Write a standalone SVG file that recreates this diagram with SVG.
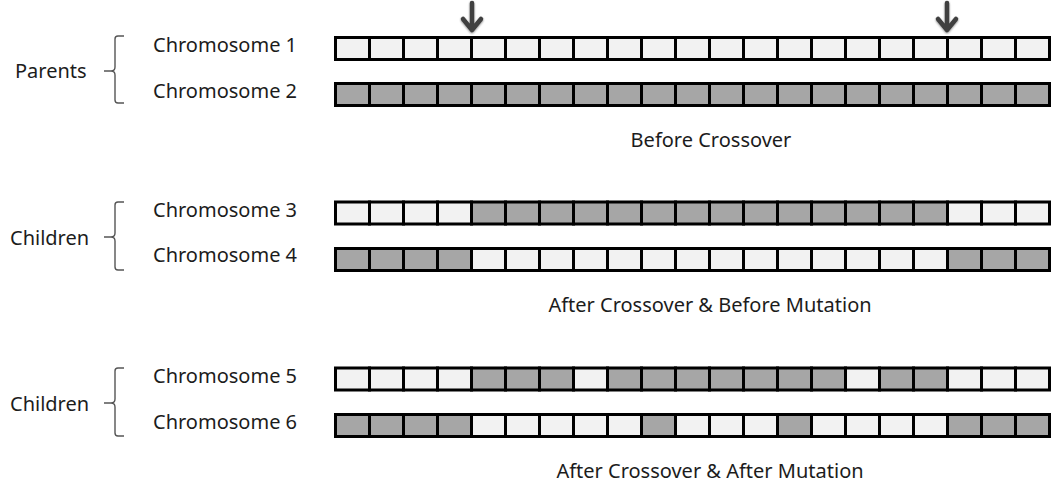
<svg xmlns="http://www.w3.org/2000/svg" width="1057" height="486" viewBox="0 0 1057 486">
  <style>
    text { font-family: "Noto Sans", "Open Sans", sans-serif; font-size: 20px; fill: #1c1c1c; }
    .cap { text-anchor: middle; }
    .L { fill: #f2f2f2; stroke: #000; stroke-width: 3; }
    .D { fill: #a6a6a6; stroke: #000; stroke-width: 3; }
    .brace { fill: none; stroke: #555; stroke-width: 1.4; }
    .arrow { fill: none; stroke: #3f3f3f; stroke-width: 4.5; stroke-linecap: round; stroke-linejoin: round; }
  </style>
  <defs>
    <rect id="c" width="34" height="22"/>
    <filter id="soft" x="-50%" y="-50%" width="200%" height="200%">
      <feGaussianBlur in="SourceAlpha" stdDeviation="1.2"/>
      <feOffset dx="0" dy="1" result="b"/>
      <feComponentTransfer><feFuncA type="linear" slope="0.45"/></feComponentTransfer>
      <feMerge><feMergeNode/><feMergeNode in="SourceGraphic"/></feMerge>
    </filter>
  </defs>
  <rect width="1057" height="486" fill="#fff"/>

  <!-- group labels with braces -->
  <g id="parents">
    <text x="15" y="78">Parents</text>
    <path class="brace" d="M124,36 L118,36 Q115,36 115,39 L115,67 Q115,71 111,71 L104,71 M111,71 Q115,71 115,75 L115,100 Q115,103 118,103 L124,103"/>
  </g>
  <g id="children-a">
    <text x="10" y="245">Children</text>
    <path class="brace" d="M124,202 L118,202 Q115,202 115,205 L115,233 Q115,237 111,237 L104,237 M111,237 Q115,237 115,241 L115,267 Q115,270 118,270 L124,270"/>
  </g>
  <g id="children-b">
    <text x="10" y="411">Children</text>
    <path class="brace" d="M124,368 L118,368 Q115,368 115,371 L115,399 Q115,403 111,403 L104,403 M111,403 Q115,403 115,407 L115,433 Q115,436 118,436 L124,436"/>
  </g>

  <!-- chromosome 1: all light -->
  <g id="chromosome-1">
    <text x="153" y="52">Chromosome 1</text>
    <g class="L">
      <use href="#c" x="335.5" y="37.5"/><use href="#c" x="369.5" y="37.5"/><use href="#c" x="403.5" y="37.5"/><use href="#c" x="437.5" y="37.5"/>
      <use href="#c" x="471.5" y="37.5"/><use href="#c" x="505.5" y="37.5"/><use href="#c" x="539.5" y="37.5"/><use href="#c" x="573.5" y="37.5"/>
      <use href="#c" x="607.5" y="37.5"/><use href="#c" x="641.5" y="37.5"/><use href="#c" x="675.5" y="37.5"/><use href="#c" x="709.5" y="37.5"/>
      <use href="#c" x="743.5" y="37.5"/><use href="#c" x="777.5" y="37.5"/><use href="#c" x="811.5" y="37.5"/><use href="#c" x="845.5" y="37.5"/>
      <use href="#c" x="879.5" y="37.5"/><use href="#c" x="913.5" y="37.5"/><use href="#c" x="947.5" y="37.5"/><use href="#c" x="981.5" y="37.5"/>
      <use href="#c" x="1015.5" y="37.5"/>
    </g>
  </g>

  <!-- chromosome 2: all dark -->
  <g id="chromosome-2">
    <text x="153" y="98">Chromosome 2</text>
    <g class="D">
      <use href="#c" x="335.5" y="83.5"/><use href="#c" x="369.5" y="83.5"/><use href="#c" x="403.5" y="83.5"/><use href="#c" x="437.5" y="83.5"/>
      <use href="#c" x="471.5" y="83.5"/><use href="#c" x="505.5" y="83.5"/><use href="#c" x="539.5" y="83.5"/><use href="#c" x="573.5" y="83.5"/>
      <use href="#c" x="607.5" y="83.5"/><use href="#c" x="641.5" y="83.5"/><use href="#c" x="675.5" y="83.5"/><use href="#c" x="709.5" y="83.5"/>
      <use href="#c" x="743.5" y="83.5"/><use href="#c" x="777.5" y="83.5"/><use href="#c" x="811.5" y="83.5"/><use href="#c" x="845.5" y="83.5"/>
      <use href="#c" x="879.5" y="83.5"/><use href="#c" x="913.5" y="83.5"/><use href="#c" x="947.5" y="83.5"/><use href="#c" x="981.5" y="83.5"/>
      <use href="#c" x="1015.5" y="83.5"/>
    </g>
  </g>

  <!-- crossover points -->
  <g id="crossover-points" filter="url(#soft)">
    <path class="arrow" d="M472,3 L472,30 M463,19 L472,30 L481,19"/>
    <path class="arrow" d="M947,3 L947,30 M938,19 L947,30 L956,19"/>
  </g>

  <text class="cap" x="711" y="147">Before Crossover</text>

  <!-- chromosome 3: L x4, D x14, L x3 -->
  <g id="chromosome-3">
    <text x="153" y="217">Chromosome 3</text>
    <g class="L">
      <use href="#c" x="335.5" y="202"/><use href="#c" x="369.5" y="202"/><use href="#c" x="403.5" y="202"/><use href="#c" x="437.5" y="202"/>
      <use href="#c" x="947.5" y="202"/><use href="#c" x="981.5" y="202"/><use href="#c" x="1015.5" y="202"/>
    </g>
    <g class="D">
      <use href="#c" x="471.5" y="202"/><use href="#c" x="505.5" y="202"/><use href="#c" x="539.5" y="202"/><use href="#c" x="573.5" y="202"/>
      <use href="#c" x="607.5" y="202"/><use href="#c" x="641.5" y="202"/><use href="#c" x="675.5" y="202"/><use href="#c" x="709.5" y="202"/>
      <use href="#c" x="743.5" y="202"/><use href="#c" x="777.5" y="202"/><use href="#c" x="811.5" y="202"/><use href="#c" x="845.5" y="202"/>
      <use href="#c" x="879.5" y="202"/><use href="#c" x="913.5" y="202"/>
    </g>
  </g>

  <!-- chromosome 4: D x4, L x14, D x3 -->
  <g id="chromosome-4">
    <text x="153" y="262">Chromosome 4</text>
    <g class="D">
      <use href="#c" x="335.5" y="248.5"/><use href="#c" x="369.5" y="248.5"/><use href="#c" x="403.5" y="248.5"/><use href="#c" x="437.5" y="248.5"/>
      <use href="#c" x="947.5" y="248.5"/><use href="#c" x="981.5" y="248.5"/><use href="#c" x="1015.5" y="248.5"/>
    </g>
    <g class="L">
      <use href="#c" x="471.5" y="248.5"/><use href="#c" x="505.5" y="248.5"/><use href="#c" x="539.5" y="248.5"/><use href="#c" x="573.5" y="248.5"/>
      <use href="#c" x="607.5" y="248.5"/><use href="#c" x="641.5" y="248.5"/><use href="#c" x="675.5" y="248.5"/><use href="#c" x="709.5" y="248.5"/>
      <use href="#c" x="743.5" y="248.5"/><use href="#c" x="777.5" y="248.5"/><use href="#c" x="811.5" y="248.5"/><use href="#c" x="845.5" y="248.5"/>
      <use href="#c" x="879.5" y="248.5"/><use href="#c" x="913.5" y="248.5"/>
    </g>
  </g>

  <text class="cap" x="710" y="312">After Crossover &amp; Before Mutation</text>

  <!-- chromosome 5: mutated at genes 8 and 16 -->
  <g id="chromosome-5">
    <text x="153" y="383">Chromosome 5</text>
    <g class="L">
      <use href="#c" x="335.5" y="368"/><use href="#c" x="369.5" y="368"/><use href="#c" x="403.5" y="368"/><use href="#c" x="437.5" y="368"/>
      <use href="#c" x="573.5" y="368"/><use href="#c" x="845.5" y="368"/>
      <use href="#c" x="947.5" y="368"/><use href="#c" x="981.5" y="368"/><use href="#c" x="1015.5" y="368"/>
    </g>
    <g class="D">
      <use href="#c" x="471.5" y="368"/><use href="#c" x="505.5" y="368"/><use href="#c" x="539.5" y="368"/>
      <use href="#c" x="607.5" y="368"/><use href="#c" x="641.5" y="368"/><use href="#c" x="675.5" y="368"/><use href="#c" x="709.5" y="368"/>
      <use href="#c" x="743.5" y="368"/><use href="#c" x="777.5" y="368"/><use href="#c" x="811.5" y="368"/>
      <use href="#c" x="879.5" y="368"/><use href="#c" x="913.5" y="368"/>
    </g>
  </g>

  <!-- chromosome 6: mutated at genes 10 and 14 -->
  <g id="chromosome-6">
    <text x="153" y="429">Chromosome 6</text>
    <g class="D">
      <use href="#c" x="335.5" y="414.5"/><use href="#c" x="369.5" y="414.5"/><use href="#c" x="403.5" y="414.5"/><use href="#c" x="437.5" y="414.5"/>
      <use href="#c" x="641.5" y="414.5"/><use href="#c" x="777.5" y="414.5"/>
      <use href="#c" x="947.5" y="414.5"/><use href="#c" x="981.5" y="414.5"/><use href="#c" x="1015.5" y="414.5"/>
    </g>
    <g class="L">
      <use href="#c" x="471.5" y="414.5"/><use href="#c" x="505.5" y="414.5"/><use href="#c" x="539.5" y="414.5"/><use href="#c" x="573.5" y="414.5"/>
      <use href="#c" x="607.5" y="414.5"/><use href="#c" x="675.5" y="414.5"/><use href="#c" x="709.5" y="414.5"/><use href="#c" x="743.5" y="414.5"/>
      <use href="#c" x="811.5" y="414.5"/><use href="#c" x="845.5" y="414.5"/><use href="#c" x="879.5" y="414.5"/><use href="#c" x="913.5" y="414.5"/>
    </g>
  </g>

  <text class="cap" x="710" y="478">After Crossover &amp; After Mutation</text>
</svg>
